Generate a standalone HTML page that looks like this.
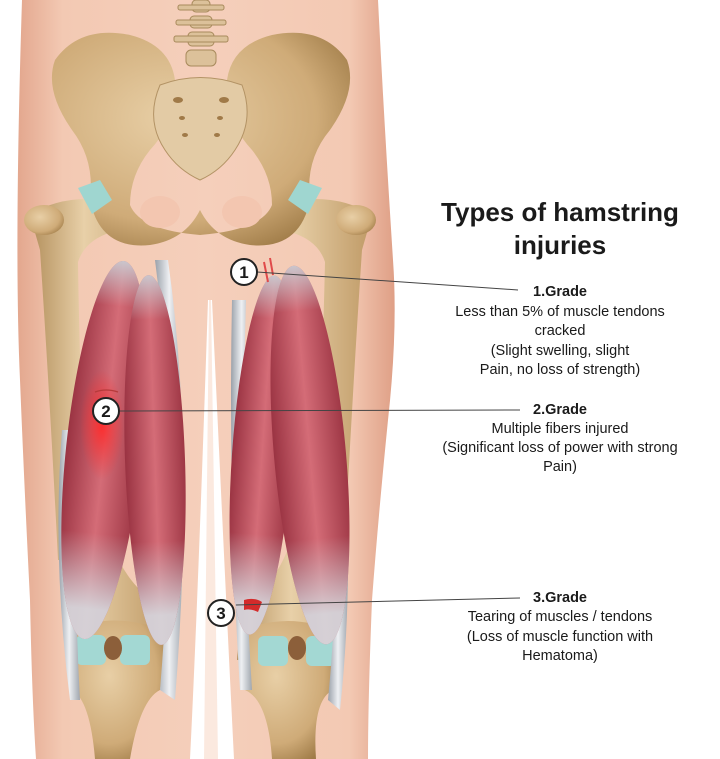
<!DOCTYPE html>
<html><head><meta charset="utf-8"><style>
html,body{margin:0;padding:0;background:#fff;}
svg{display:block}
text{font-family:"Liberation Sans",Arial,sans-serif;fill:#1a1a1a}
</style></head><body>
<svg width="720" height="759" viewBox="0 0 720 759" xmlns="http://www.w3.org/2000/svg">
<defs>
<linearGradient id="skin" x1="0" x2="1" y1="0" y2="0">
<stop offset="0" stop-color="#e3a78e"/><stop offset="0.12" stop-color="#f3c9b3"/><stop offset="0.5" stop-color="#f5cfbb"/><stop offset="0.88" stop-color="#f3c9b3"/><stop offset="1" stop-color="#df9f86"/>
</linearGradient>
<radialGradient id="bone" cx="0.4" cy="0.4" r="0.7">
<stop offset="0" stop-color="#e8cfa6"/><stop offset="0.7" stop-color="#cfab78"/><stop offset="1" stop-color="#a07c48"/>
</radialGradient>
<linearGradient id="boneH" x1="0" x2="1">
<stop offset="0" stop-color="#b38f5c"/><stop offset="0.4" stop-color="#e8d0a8"/><stop offset="1" stop-color="#bf9a66"/>
</linearGradient>
<linearGradient id="mus" x1="0" x2="1">
<stop offset="0" stop-color="#9a3342"/><stop offset="0.5" stop-color="#d46c77"/><stop offset="1" stop-color="#9e3745"/>
</linearGradient>
<linearGradient id="musV" x1="0" x2="0" y1="0" y2="1">
<stop offset="0" stop-color="#c9d0d6" stop-opacity="0.9"/><stop offset="0.12" stop-color="#c9d0d6" stop-opacity="0"/><stop offset="0.72" stop-color="#c9d0d6" stop-opacity="0"/><stop offset="0.92" stop-color="#d6dbe0" stop-opacity="0.9"/>
</linearGradient>
<linearGradient id="gray" x1="0" x2="1">
<stop offset="0" stop-color="#9aa1aa"/><stop offset="0.5" stop-color="#eef0f3"/><stop offset="1" stop-color="#a0a6ae"/>
</linearGradient>
<radialGradient id="hot" cx="0.5" cy="0.5" r="0.5">
<stop offset="0" stop-color="#ff2a2a" stop-opacity="0.95"/><stop offset="1" stop-color="#ff3030" stop-opacity="0"/>
</radialGradient>
</defs>

<!-- body -->
<path d="M22,0 L378,0 Q384,120 393,260 Q398,330 388,420 Q378,520 372,600 Q368,700 368,759 L234,759 Q226,600 212,300 L208,300 Q198,600 190,759 L36,759 Q32,700 30,600 Q24,480 20,380 Q14,250 22,0 Z" fill="url(#skin)"/>
<path d="M209,300 L211,300 L218,759 L204,759 Z" fill="#fbe7dc" opacity="0.9"/>

<!-- spine -->
<g fill="#dcc19a" stroke="#a88a5c" stroke-width="1">
<rect x="192" y="0" width="18" height="12" rx="4"/><rect x="178" y="5" width="46" height="5" rx="2"/>
<rect x="190" y="16" width="22" height="12" rx="4"/><rect x="176" y="20" width="50" height="5" rx="2"/>
<rect x="188" y="32" width="26" height="14" rx="4"/><rect x="174" y="36" width="54" height="6" rx="2"/>
<rect x="186" y="50" width="30" height="16" rx="5"/>
</g>

<!-- femurs -->
<path d="M30,215 Q60,195 105,200 L112,232 Q85,240 78,262 Q80,400 88,560 Q72,600 72,650 L165,660 Q160,610 140,590 Q110,560 100,500 L90,470 L82,560 L58,560 Q50,400 40,250 Z" fill="url(#boneH)"/>
<path d="M372,215 Q342,195 297,200 L290,232 Q318,240 325,262 Q322,400 312,560 Q332,600 330,650 L237,660 Q240,610 262,590 Q292,560 300,500 L310,470 L320,560 L344,560 Q352,400 362,250 Z" fill="url(#boneH)"/>
<ellipse cx="44" cy="220" rx="20" ry="15" fill="url(#bone)"/>
<ellipse cx="356" cy="220" rx="20" ry="15" fill="url(#bone)"/>

<!-- pelvis -->
<path d="M55,60 Q80,25 130,35 Q170,45 175,80 Q178,120 150,150 Q130,175 130,205 Q140,230 200,235 Q262,230 272,205 Q272,175 252,150 Q224,120 227,80 Q232,45 272,35 Q322,25 347,60 Q358,90 330,130 Q305,160 310,200 Q300,250 250,245 Q215,240 200,210 Q185,240 150,245 Q100,250 90,200 Q95,160 72,130 Q44,90 55,60 Z" fill="url(#bone)"/>
<ellipse cx="160" cy="212" rx="20" ry="16" fill="#f3c6b0"/>
<ellipse cx="242" cy="212" rx="20" ry="16" fill="#f3c6b0"/>
<path d="M160,85 Q200,70 242,85 Q255,120 235,150 Q222,170 200,180 Q178,170 165,150 Q145,120 160,85 Z" fill="#e3cba5" stroke="#b39365" stroke-width="1"/>
<g fill="#a07a48"><ellipse cx="178" cy="100" rx="5" ry="3"/><ellipse cx="224" cy="100" rx="5" ry="3"/><ellipse cx="182" cy="118" rx="3" ry="2"/><ellipse cx="220" cy="118" rx="3" ry="2"/><ellipse cx="185" cy="135" rx="3" ry="2"/><ellipse cx="217" cy="135" rx="3" ry="2"/></g>
<path d="M78,188 L100,180 L112,200 L92,214 Z" fill="#9fd6d0"/>
<path d="M322,188 L300,180 L288,200 L308,214 Z" fill="#9fd6d0"/>

<!-- knees -->
<path d="M70,630 Q115,610 168,632 L160,690 Q140,700 130,759 L95,759 Q90,700 72,690 Z" fill="url(#bone)"/>
<path d="M237,632 Q290,610 335,632 L333,690 Q312,700 316,759 L272,759 Q268,700 245,690 Z" fill="url(#bone)"/>
<rect x="76" y="635" width="30" height="30" rx="6" fill="#a3d8d3"/><rect x="120" y="635" width="30" height="30" rx="6" fill="#a3d8d3"/><ellipse cx="113" cy="648" rx="9" ry="12" fill="#8c5f3a"/>
<rect x="258" y="636" width="30" height="30" rx="6" fill="#a3d8d3"/><rect x="306" y="636" width="30" height="30" rx="6" fill="#a3d8d3"/><ellipse cx="297" cy="648" rx="9" ry="12" fill="#8c5f3a"/>

<!-- tendons gray -->
<path d="M62,430 Q52,560 70,700 L80,700 Q72,560 80,430 Z" fill="url(#gray)"/>
<path d="M168,260 Q195,450 175,700 L160,690 Q180,450 155,260 Z" fill="url(#gray)"/>
<path d="M232,300 Q228,500 240,690 L252,690 Q240,500 246,300 Z" fill="url(#gray)"/>
<path d="M340,420 Q356,560 340,710 L328,700 Q342,560 330,420 Z" fill="url(#gray)"/>

<!-- muscles -->
<g>
<ellipse cx="104" cy="450" rx="38" ry="190" transform="rotate(6 104 450)" fill="url(#mus)"/>
<ellipse cx="104" cy="450" rx="38" ry="190" transform="rotate(6 104 450)" fill="url(#musV)"/>
<ellipse cx="155" cy="460" rx="30" ry="185" transform="rotate(-2 155 460)" fill="url(#mus)"/>
<ellipse cx="155" cy="460" rx="30" ry="185" transform="rotate(-2 155 460)" fill="url(#musV)"/>
<ellipse cx="262" cy="455" rx="30" ry="180" transform="rotate(4 262 455)" fill="url(#mus)"/>
<ellipse cx="262" cy="455" rx="30" ry="180" transform="rotate(4 262 455)" fill="url(#musV)"/>
<ellipse cx="310" cy="455" rx="36" ry="190" transform="rotate(-5 310 455)" fill="url(#mus)"/>
<ellipse cx="310" cy="455" rx="36" ry="190" transform="rotate(-5 310 455)" fill="url(#musV)"/>
</g>
<ellipse cx="102" cy="425" rx="22" ry="55" fill="url(#hot)"/>
<path d="M95,392 Q106,388 118,392" stroke="#b53a3a" stroke-width="1.2" fill="none"/>
<path d="M264,262 L268,282 M270,258 L273,275" stroke="#e04a4a" stroke-width="2"/>
<path d="M244,600 Q254,597 262,602 L258,612 Q250,608 244,610 Z" fill="#d42b2b"/>

<!-- labels -->
<g stroke="#444" stroke-width="1" fill="none">
<line x1="257" y1="272" x2="518" y2="290"/>
<line x1="120" y1="411" x2="520" y2="410"/>
<line x1="236" y1="605" x2="520" y2="598"/>
</g>
<g fill="#fff" stroke="#222" stroke-width="2">
<circle cx="244" cy="272" r="13"/><circle cx="106" cy="411" r="13"/><circle cx="221" cy="613" r="13"/>
</g>
<g font-size="17" font-weight="bold" text-anchor="middle">
<text x="244" y="278">1</text><text x="106" y="417">2</text><text x="221" y="619">3</text>
</g>

<text x="560" y="221" font-size="26" font-weight="bold" text-anchor="middle">Types of hamstring</text>
<text x="560" y="254" font-size="26" font-weight="bold" text-anchor="middle">injuries</text>
<g font-size="14.5" text-anchor="middle">
<text x="560" y="296" font-weight="bold">1.Grade</text>
<text x="560" y="316">Less than 5% of muscle tendons</text>
<text x="560" y="335">cracked</text>
<text x="560" y="355">(Slight swelling, slight</text>
<text x="560" y="374">Pain, no loss of strength)</text>
<text x="560" y="414" font-weight="bold">2.Grade</text>
<text x="560" y="433">Multiple fibers injured</text>
<text x="560" y="452">(Significant loss of power with strong</text>
<text x="560" y="471">Pain)</text>
<text x="560" y="602" font-weight="bold">3.Grade</text>
<text x="560" y="621">Tearing of muscles / tendons</text>
<text x="560" y="641">(Loss of muscle function with</text>
<text x="560" y="660">Hematoma)</text>
</g>
</svg>
</body></html>
